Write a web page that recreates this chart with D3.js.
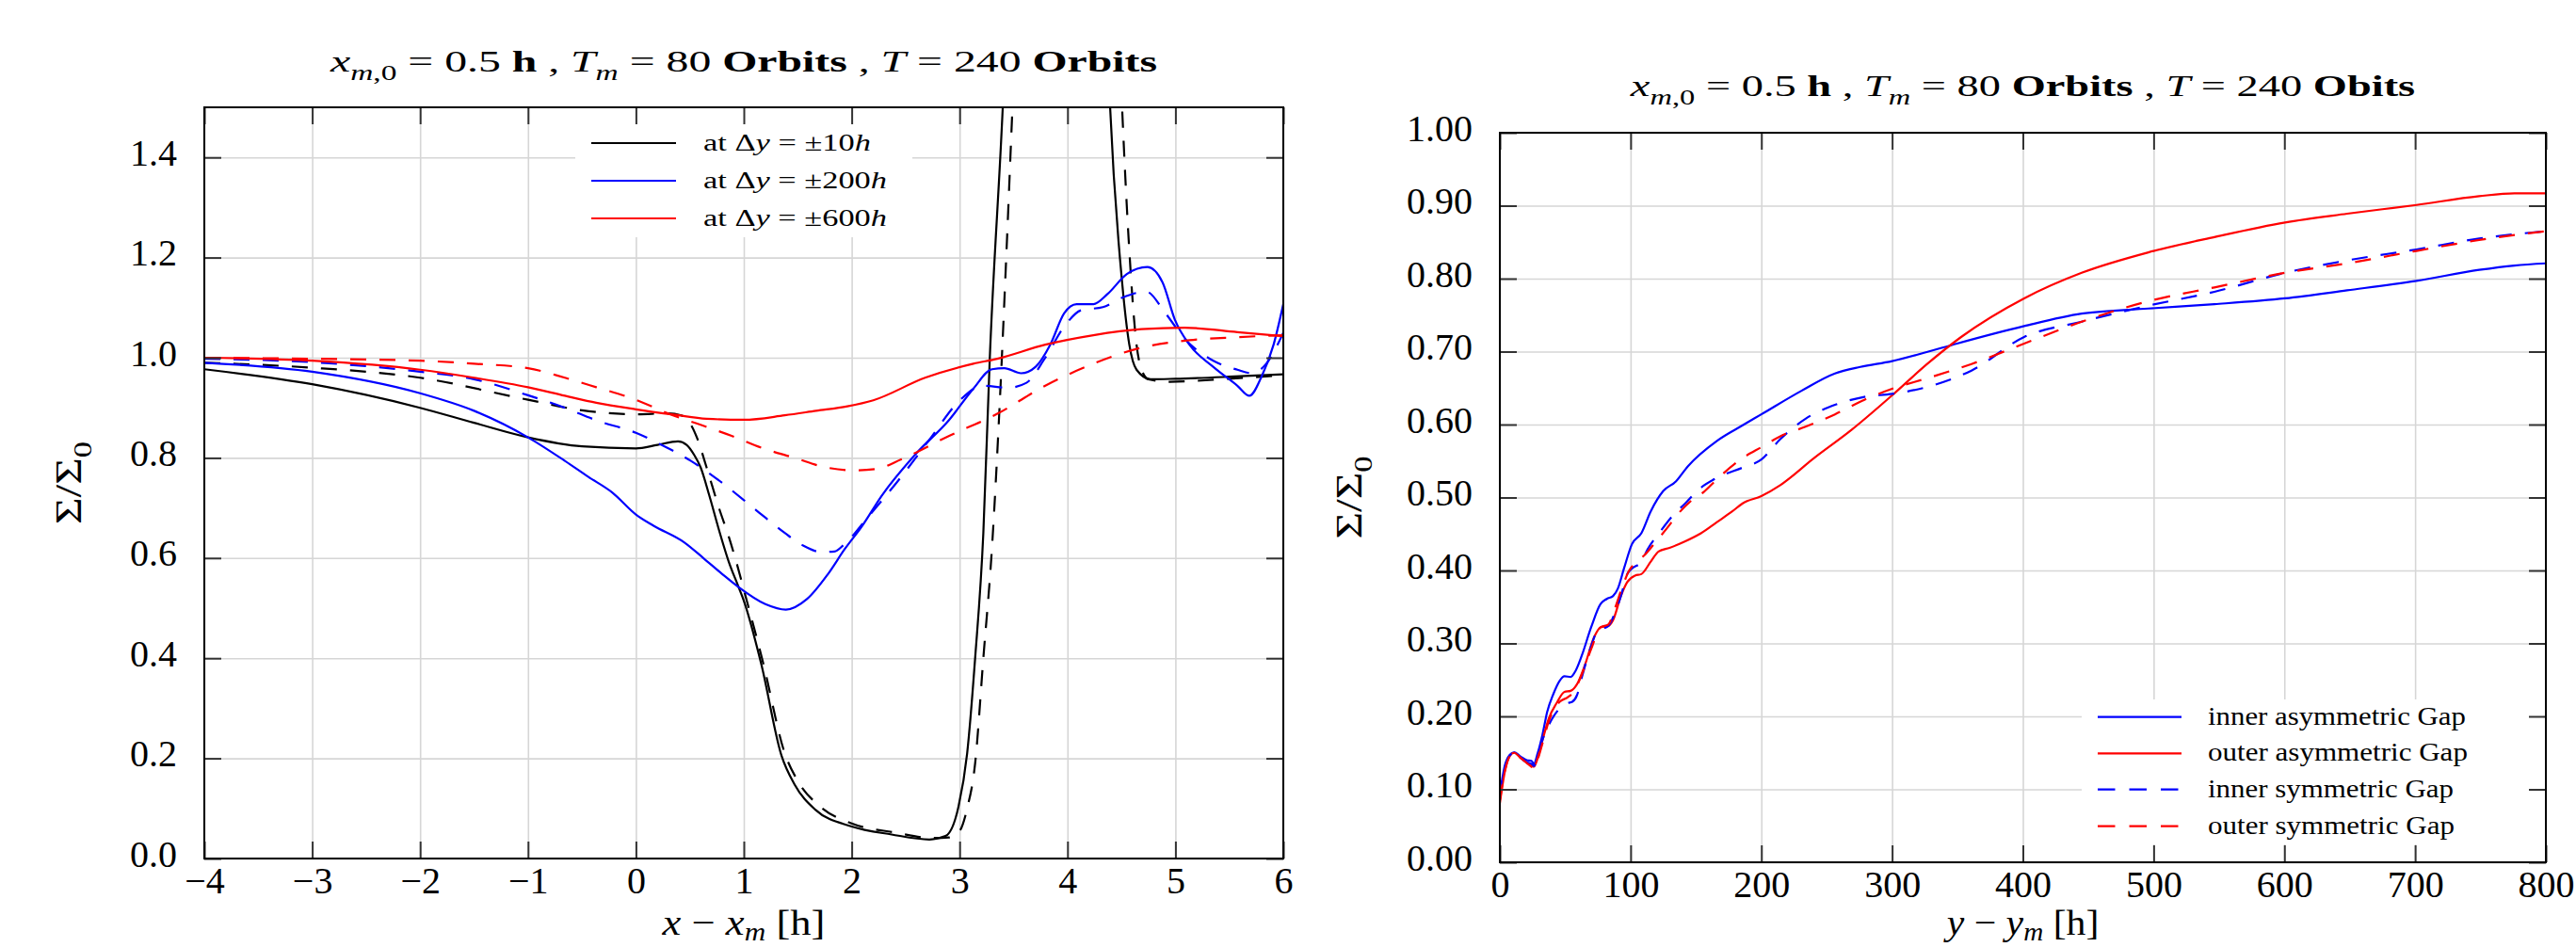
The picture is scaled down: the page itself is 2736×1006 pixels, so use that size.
<!DOCTYPE html>
<html><head><meta charset="utf-8">
<script src="https://cdn.jsdelivr.net/npm/d3@7"></script>
<style>
html,body{margin:0;padding:0;background:#fff;}
svg{display:block;font-family:"Liberation Serif","Times New Roman",serif;}
text{white-space:pre;}
</style></head><body>
<svg id="chart" width="2736" height="1006"></svg>
<script>
// ---------------- data ----------------
const leftXTicks = [-4,-3,-2,-1,0,1,2,3,4,5,6];
const leftYTicks = [0,0.2,0.4,0.6,0.8,1.0,1.2,1.4];
const rightXTicks = [0,100,200,300,400,500,600,700,800];
const rightYTicks = [0,0.1,0.2,0.3,0.4,0.5,0.6,0.7,0.8,0.9,1.0];

// left panel: Sigma/Sigma0 vs x - x_m  (solid = asymmetric, dashed = symmetric)
const dy10Solid = [[-4,0.977],[-3,0.947],[-2,0.900],[-1.5,0.870],[-1,0.841],[-0.5,0.823],[0,0.819],[0.2,0.826],[0.39,0.833],[0.47,0.826],[0.54,0.806],[0.6,0.781],[0.68,0.725],[0.77,0.656],[0.86,0.593],[0.95,0.543],[1.0,0.515],[1.16,0.39],[1.35,0.205],[1.47,0.148],[1.66,0.098],[2.0,0.064],[2.37,0.048],[2.72,0.038],[2.87,0.045],[2.99,0.104],[3.07,0.21],[3.144,0.40],[3.22,0.65],[3.28,1.0],[3.40,1.5],[3.45,1.75],[4.35,1.75],[4.395,1.5],[4.506,1.151],[4.573,1.026],[4.64,0.976],[4.77,0.957],[5.0,0.958],[5.5,0.962],[6.0,0.967]];
const dy10Dashed = [[-4,0.990],[-3,0.980],[-2,0.960],[-1,0.916],[-0.5,0.895],[0,0.887],[0.3,0.889],[0.42,0.885],[0.51,0.866],[0.57,0.838],[0.655,0.781],[0.77,0.70],[0.86,0.643],[0.945,0.581],[1.0,0.537],[1.18,0.39],[1.38,0.21],[1.5,0.155],[1.7,0.105],[2.0,0.07],[2.4,0.052],[2.75,0.041],[2.9,0.042],[3.0,0.055],[3.07,0.10],[3.144,0.19],[3.22,0.40],[3.30,0.62],[3.37,0.90],[3.435,1.214],[3.49,1.5],[3.54,1.75],[4.46,1.75],[4.506,1.5],[4.573,1.214],[4.64,1.026],[4.68,0.98],[4.75,0.957],[4.95,0.952],[5.5,0.958],[6.0,0.965]];
const dy200Solid = [[-4,0.990],[-3,0.972],[-2,0.929],[-1.5,0.894],[-1,0.841],[-0.658,0.794],[-0.44,0.762],[-0.22,0.731],[0,0.687],[0.16,0.665],[0.45,0.631],[0.625,0.60],[0.8,0.568],[0.945,0.543],[1.2,0.508],[1.39,0.497],[1.585,0.518],[1.78,0.568],[1.936,0.618],[2.09,0.662],[2.28,0.725],[2.59,0.807],[2.90,0.875],[3.127,0.938],[3.30,0.977],[3.415,0.979],[3.57,0.969],[3.705,0.982],[3.84,1.026],[3.97,1.089],[4.084,1.107],[4.24,1.107],[4.37,1.127],[4.55,1.167],[4.74,1.181],[4.88,1.151],[4.995,1.076],[5.13,1.026],[5.35,0.982],[5.575,0.944],[5.686,0.924],[5.80,0.963],[5.91,1.026],[6.0,1.107]];
const dy200Dashed = [[-4,0.998],[-3,0.991],[-2,0.972],[-1.5,0.957],[-1,0.925],[-0.658,0.90],[-0.367,0.875],[0,0.85],[0.218,0.828],[0.51,0.794],[0.8,0.75],[1.09,0.70],[1.38,0.65],[1.55,0.625],[1.72,0.612],[1.84,0.613],[1.93,0.627],[2.147,0.681],[2.458,0.762],[2.726,0.838],[2.993,0.913],[3.215,0.944],[3.45,0.94],[3.62,0.95],[3.794,1.0],[3.972,1.063],[4.128,1.095],[4.328,1.101],[4.506,1.12],[4.729,1.132],[4.907,1.089],[5.085,1.038],[5.352,0.994],[5.575,0.976],[5.708,0.969],[5.842,0.988],[6.0,1.05]];
const dy600Solid = [[-4,1.0],[-3,0.994],[-2,0.976],[-1.5,0.96],[-1,0.941],[-0.658,0.924],[-0.367,0.91],[0,0.897],[0.364,0.886],[0.655,0.878],[1.0,0.876],[1.38,0.885],[1.67,0.894],[1.96,0.903],[2.2,0.915],[2.68,0.96],[3.127,0.988],[3.349,0.998],[3.794,1.026],[4.24,1.045],[4.684,1.057],[5.085,1.06],[5.575,1.051],[6.0,1.043]];
const dy600Dashed = [[-4,1.0],[-3,0.998],[-2,0.994],[-1.5,0.988],[-1,0.979],[-0.658,0.96],[-0.367,0.941],[0,0.916],[0.305,0.888],[0.6,0.866],[0.887,0.844],[1.18,0.819],[1.47,0.80],[1.76,0.781],[2.013,0.775],[2.233,0.778],[2.458,0.797],[2.904,0.844],[3.349,0.888],[3.794,0.944],[4.24,0.988],[4.684,1.02],[5.13,1.035],[5.575,1.041],[6.0,1.045]];

// right panel: Sigma/Sigma0 vs y - y_m
const innerAsym = [[0,0.094],[0.7,0.102],[3.8,0.1325],[7.4,0.147],[11,0.151],[15.8,0.145],[20.6,0.140],[24.2,0.139],[26,0.135],[29,0.15],[32.6,0.175],[36.2,0.206],[41,0.231],[45.8,0.249],[49.4,0.255],[54.2,0.254],[57.8,0.262],[62.6,0.283],[69.8,0.322],[77,0.354],[81.8,0.361],[86.6,0.365],[90.2,0.375],[95,0.403],[101,0.436],[108.2,0.451],[115.4,0.481],[125,0.509],[134.6,0.522],[143.9,0.543],[166.3,0.578],[185.7,0.599],[200,0.614],[230.4,0.646],[256.3,0.670],[275.7,0.679],[300,0.687],[323.8,0.698],[349.6,0.711],[401,0.735],[445,0.752],[496,0.759],[546.5,0.765],[600.5,0.773],[648,0.784],[701,0.797],[749,0.812],[776,0.818],[800,0.821]];
const outerAsym = [[0,0.081],[3.8,0.124],[7.4,0.145],[11,0.15],[15.8,0.143],[20.6,0.137],[24.2,0.1325],[26,0.131],[29,0.143],[32.6,0.167],[37.4,0.197],[43.4,0.218],[49.4,0.2335],[54.2,0.235],[59,0.244],[65,0.27],[72.2,0.309],[77,0.322],[83,0.324],[86.6,0.332],[92.6,0.365],[97.4,0.384],[103.4,0.393],[108.2,0.395],[115.4,0.412],[121.4,0.426],[129.8,0.431],[141.8,0.44],[153.8,0.451],[165.8,0.466],[177.8,0.481],[185.7,0.492],[200,0.502],[214.5,0.517],[240.3,0.554],[269.2,0.593],[300,0.64],[326.8,0.683],[352.8,0.72],[401,0.773],[445,0.808],[496,0.836],[546.5,0.857],[600.5,0.877],[648,0.889],[701,0.901],[749,0.913],[776,0.917],[800,0.917]];
const innerSym = [[0,0.09],[1,0.107],[3.8,0.13],[7.4,0.146],[11,0.15],[15.8,0.143],[20.6,0.137],[24.2,0.135],[26,0.132],[29,0.146],[32.6,0.168],[37.4,0.188],[43.4,0.206],[51.8,0.218],[55.4,0.22],[59,0.229],[62.6,0.253],[69.8,0.296],[74.6,0.317],[83,0.324],[87.8,0.341],[92.6,0.365],[97.4,0.395],[101,0.4025],[108.2,0.412],[113,0.429],[122.6,0.453],[132.2,0.475],[141.8,0.492],[151.4,0.51],[166,0.527],[185.7,0.541],[200,0.552],[214.5,0.58],[233.8,0.608],[256.3,0.627],[278.8,0.638],[300,0.642],[327.8,0.652],[360.7,0.674],[401,0.72],[445,0.741],[496,0.763],[546.5,0.782],[600.5,0.808],[648,0.825],[701,0.84],[749,0.855],[800,0.865]];
const outerSym = [[0,0.085],[3.8,0.125],[7.4,0.145],[11,0.15],[15.8,0.143],[20.6,0.136],[24.2,0.131],[26,0.129],[29,0.141],[32.6,0.163],[37.4,0.193],[45.8,0.22],[51.8,0.226],[56.6,0.234],[62.6,0.257],[69.8,0.292],[77,0.322],[83,0.326],[87.8,0.347],[93.8,0.378],[98.6,0.399],[104.6,0.412],[110.6,0.421],[117.8,0.436],[127.4,0.457],[137,0.479],[146.6,0.496],[156.2,0.508],[166,0.525],[185.7,0.554],[200,0.569],[214.5,0.584],[233.8,0.597],[256.3,0.614],[278.8,0.634],[300,0.649],[327.8,0.664],[360.7,0.683],[401,0.711],[445,0.741],[496,0.769],[546.5,0.788],[600.5,0.808],[648,0.821],[701,0.838],[749,0.853],[800,0.865]];

const leftLegend = ["10", "200", "600"];
const rightLegend = ["inner asymmetric Gap","outer asymmetric Gap","inner symmetric Gap","outer symmetric Gap"];

// ---------------- drawing ----------------
const svg = d3.select('#chart');
const GRID = '#d6d6d6', TICK = '#333';
const DASH = '17,14';

// rich text placed at (x,y); optionally stretched horizontally to a target width
function rich(sel, x, y, segs, size, anchor, targetW, rot, subShift) {
  const t = sel.append('text').attr('x', 0).attr('y', 0)
    .attr('font-size', size).attr('text-anchor', anchor || 'start').attr('fill', '#000');
  let shift = 0;
  const sub = subShift == null ? 0.28 : subShift;
  segs.forEach(s => {
    const target = s.sub ? size * sub : 0;
    const ts = t.append('tspan').text(s.t);
    if (s.sub) ts.attr('font-size', size * 0.7);
    if (s.i) ts.attr('font-style', 'italic');
    if (s.b) ts.attr('font-weight', 'bold');
    if (target !== shift) { ts.attr('dy', target - shift); shift = target; }
  });
  let sx = 1;
  if (targetW) {
    const w = t.node().getBBox().width;
    if (w > 0) sx = targetW / w;
  }
  t.attr('transform', `translate(${x},${y})${rot ? ' rotate(' + rot + ')' : ''} scale(${sx},1)`);
  return t;
}

function panel(cfg) {
  const x = d3.scaleLinear().domain(cfg.xDomain).range([cfg.x0, cfg.x1]);
  const y = d3.scaleLinear().domain(cfg.yDomain).range([cfg.y1, cfg.y0]);
  const w = cfg.x1 - cfg.x0, h = cfg.y1 - cfg.y0;
  const g = svg.append('g');
  const clipId = 'clip' + cfg.id;
  svg.append('defs').append('clipPath').attr('id', clipId)
    .append('rect').attr('x', cfg.x0).attr('y', cfg.y0).attr('width', w).attr('height', h);

  // grid
  const gridX = g.append('g').attr('transform', `translate(0,${cfg.y1})`)
    .call(d3.axisBottom(x).tickValues(cfg.xTicks).tickSize(-h).tickFormat(''));
  const gridY = g.append('g').attr('transform', `translate(${cfg.x0},0)`)
    .call(d3.axisLeft(y).tickValues(cfg.yTicks).tickSize(-w).tickFormat(''));
  [gridX, gridY].forEach(a => {
    a.select('.domain').remove();
    a.selectAll('line').attr('stroke', GRID).attr('stroke-width', 1.6);
  });

  // legend background
  g.append('rect').attr('x', cfg.legBox[0]).attr('y', cfg.legBox[1])
    .attr('width', cfg.legBox[2]).attr('height', cfg.legBox[3]).attr('fill', '#fff');

  // curves
  const line = d3.line().x(d => x(d[0])).y(d => y(d[1])).curve(d3.curveMonotoneX);
  const cg = g.append('g').attr('clip-path', `url(#${clipId})`);
  cfg.series.forEach(s => {
    cg.append('path').datum(s.data).attr('d', line).attr('fill', 'none')
      .attr('stroke', s.color).attr('stroke-width', 2.2)
      .attr('stroke-dasharray', s.dash ? DASH : null);
  });

  // ticks (inward, all four sides)
  const axB = g.append('g').attr('transform', `translate(0,${cfg.y1})`)
    .call(d3.axisBottom(x).tickValues(cfg.xTicks).tickSize(-18).tickPadding(9).tickFormat(cfg.xFmt));
  const axT = g.append('g').attr('transform', `translate(0,${cfg.y0})`)
    .call(d3.axisTop(x).tickValues(cfg.xTicks).tickSize(-18).tickFormat(''));
  const axL = g.append('g').attr('transform', `translate(${cfg.x0},0)`)
    .call(d3.axisLeft(y).tickValues(cfg.yTicks).tickSize(-18).tickPadding(29).tickFormat(cfg.yFmt));
  const axR = g.append('g').attr('transform', `translate(${cfg.x1},0)`)
    .call(d3.axisRight(y).tickValues(cfg.yTicks).tickSize(-18).tickFormat(''));
  [axB, axT, axL, axR].forEach(a => {
    a.select('.domain').remove();
    a.selectAll('line').attr('stroke', TICK).attr('stroke-width', 2);
    a.selectAll('text').attr('font-size', 40).attr('fill', '#000')
      .attr('font-family', '"Liberation Serif","Times New Roman",serif');
  });
  axL.selectAll('text').attr('dy', '0.2em');
  axB.selectAll('text').attr('dy', '0.71em');

  // frame
  g.append('rect').attr('x', cfg.x0).attr('y', cfg.y0).attr('width', w).attr('height', h)
    .attr('fill', 'none').attr('stroke', '#000').attr('stroke-width', 2);

  // legend entries
  cfg.legend.forEach((L, i) => {
    const ly = cfg.legY[i];
    g.append('line').attr('x1', cfg.legX[0]).attr('x2', cfg.legX[1]).attr('y1', ly).attr('y2', ly)
      .attr('stroke', L.color).attr('stroke-width', 2.2)
      .attr('stroke-dasharray', L.dash ? '18.5,15' : null);
    rich(g, cfg.legX[2], ly + 8, L.segs, cfg.legSize, 'start', L.w);
  });

  // title and axis labels
  const cx = (cfg.x0 + cfg.x1) / 2;
  rich(svg, cx, cfg.titleY, cfg.title, 32, 'middle', cfg.titleW);
  rich(svg, cx, 993, cfg.xLabel, 38, 'middle', cfg.xLabelW, null, 0.16);
  rich(svg, cfg.yLabelX, (cfg.y0 + cfg.y1) / 2, [{t:'Σ/Σ'},{t:'0', sub:true}], 40, 'middle', 88, -90);
}

const titleSegs = last => [
  {t:'x', i:true},{t:'m', i:true, sub:true},{t:',0', sub:true},{t:' = 0.5 '},{t:'h', b:true},
  {t:' , '},{t:'T', i:true},{t:'m', i:true, sub:true},{t:' = 80 '},{t:'Orbits', b:true},
  {t:' , '},{t:'T', i:true},{t:' = 240 '},{t:last, b:true}
];

panel({
  id: 'L', x0: 217, x1: 1363, y0: 114, y1: 912,
  xDomain: [-4, 6], yDomain: [0, 1.5],
  xTicks: leftXTicks, yTicks: leftYTicks,
  xFmt: d3.format('d'), yFmt: d3.format('.1f'),
  series: [
    {data: dy10Solid, color: '#000'}, {data: dy10Dashed, color: '#000', dash: true},
    {data: dy200Solid, color: '#0000ff'}, {data: dy200Dashed, color: '#0000ff', dash: true},
    {data: dy600Solid, color: '#ff0000'}, {data: dy600Dashed, color: '#ff0000', dash: true}
  ],
  legBox: [611, 115, 358, 137],
  legX: [628, 718, 747], legY: [152, 192, 232], legSize: 26,
  legend: leftLegend.map((v, i) => ({
    color: ['#000', '#0000ff', '#ff0000'][i],
    w: [178, 195, 195][i],
    segs: [{t:'at Δ'},{t:'y', i:true},{t:' = ±' + v},{t:'h', i:true}]
  })),
  title: titleSegs('Orbits'), titleY: 76, titleW: 880,
  xLabel: [{t:'x', i:true},{t:' − '},{t:'x', i:true},{t:'m', i:true, sub:true},{t:' [h]'}],
  xLabelW: 174,
  yLabelX: 86
});

panel({
  id: 'R', x0: 1593, x1: 2704, y0: 141, y1: 916,
  xDomain: [0, 800], yDomain: [0, 1.0],
  xTicks: rightXTicks, yTicks: rightYTicks,
  xFmt: d3.format('d'), yFmt: d3.format('.2f'),
  series: [
    {data: innerAsym, color: '#0000ff'}, {data: outerAsym, color: '#ff0000'},
    {data: innerSym, color: '#0000ff', dash: true}, {data: outerSym, color: '#ff0000', dash: true}
  ],
  legBox: [2211, 743, 490, 154],
  legX: [2228, 2317, 2345], legY: [761.7, 800.3, 838.7, 877.7], legSize: 27,
  legend: rightLegend.map((v, i) => ({
    color: ['#0000ff', '#ff0000', '#0000ff', '#ff0000'][i], dash: i >= 2,
    w: [274, 276, 261, 262][i],
    segs: [{t:v}]
  })),
  title: titleSegs('Obits'), titleY: 102, titleW: 835,
  xLabel: [{t:'y', i:true},{t:' − '},{t:'y', i:true},{t:'m', i:true, sub:true},{t:' [h]'}],
  xLabelW: 166,
  yLabelX: 1446
});
</script>
</body></html>
